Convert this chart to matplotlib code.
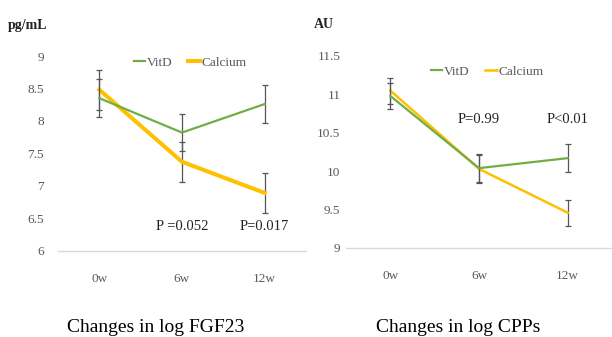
import numpy as np
import matplotlib
matplotlib.use("Agg")
import matplotlib.pyplot as plt

plt.rcParams['font.family'] = ['Liberation Serif', 'DejaVu Serif']

weeks = ['0w', '6w', '12w']

# log FGF23 (pg/mL)
fgf_vitd = [8.35, 7.82, 8.26]
fgf_vitd_err = [0.29, 0.29, 0.29]
fgf_calcium = [8.48, 7.37, 6.89]
fgf_calcium_err = [0.31, 0.31, 0.31]
fgf_yticks = [6, 6.5, 7, 7.5, 8, 8.5, 9]
fgf_pvals = ['P =0.052', 'P=0.017']

# log CPPs (AU)
cpp_vitd = [10.98, 10.04, 10.17]
cpp_vitd_err = [0.17, 0.18, 0.18]
cpp_calcium = [11.05, 10.03, 9.46]
cpp_calcium_err = [0.17, 0.18, 0.17]
cpp_yticks = [9, 9.5, 10, 10.5, 11, 11.5]
cpp_pvals = ['P=0.99', 'P<0.01']

green = '#70AD47'
yellow = '#FFC000'
gray = '#595959'

W, H = 612, 337
fig = plt.figure(figsize=(W / 100, H / 100), dpi=100)


def make_panel(rect, vitd, vitd_err, calc, calc_err, yticks, ylim, vitd_lw, calc_lw,
               ypad, pvals, p_y, title, title_x, unit, unit_x, leg_anchor):
    ax = fig.add_axes(rect)
    x = np.arange(len(weeks))
    ax.errorbar(x, vitd, yerr=vitd_err, color=green, lw=vitd_lw, ecolor='#555555',
                elinewidth=0.9, capsize=2.2, capthick=0.9, label='VitD', zorder=3)
    ax.errorbar(x, calc, yerr=calc_err, color=yellow, lw=calc_lw, ecolor='#555555',
                elinewidth=0.9, capsize=2.2, capthick=0.9, label='Calcium', zorder=2)
    ax.set_xlim(-0.5, 2.5)
    ax.set_ylim(*ylim)
    ax.set_xticks(x)
    ax.set_xticklabels(weeks)
    ax.set_yticks(yticks)
    ax.set_yticklabels([('%g' % v) for v in yticks])
    ax.tick_params(length=0, labelsize=9.5, colors=gray)
    ax.tick_params(axis='y', pad=ypad)
    ax.tick_params(axis='x', pad=16)
    for s in ['top', 'right', 'left']:
        ax.spines[s].set_visible(False)
    ax.spines['bottom'].set_color('#D9D9D9')
    ax.spines['bottom'].set_linewidth(1.0)
    for xi, p in zip([1, 2], pvals):
        ax.text(xi, p_y, p, ha='center', va='center', fontsize=10.5, color='#222222')
    handles, labels = ax.get_legend_handles_labels()
    handles = [h[0] for h in handles]
    leg = ax.legend(handles, labels, loc='center', bbox_to_anchor=leg_anchor,
                    bbox_transform=fig.transFigure, ncol=2, frameon=False,
                    fontsize=9.5, handlelength=0.9, handletextpad=0.1,
                    columnspacing=1.2)
    for t in leg.get_texts():
        t.set_color(gray)
    fig.text(title_x, 1 - 327 / H, title, ha='center', va='center', fontsize=14)
    fig.text(unit_x, 1 - 25 / H, unit, ha='left', va='center', fontsize=10,
             fontweight='bold', color='#222222')
    return ax


make_panel([58 / W, 1 - 250.7 / H, 248 / W, (250.7 - 56) / H],
           fgf_vitd, fgf_vitd_err, fgf_calcium, fgf_calcium_err, fgf_yticks,
           (6, 9), 1.6, 2.9, 10, fgf_pvals, 6.37, 'Changes in log FGF23', 156 / W,
           'pg/mL', 8 / W, (190 / W, 1 - 63 / H))

make_panel([346 / W, 1 - 248 / H, 266 / W, (248 - 56) / H],
           cpp_vitd, cpp_vitd_err, cpp_calcium, cpp_calcium_err, cpp_yticks,
           (9, 11.5), 1.6, 1.8, 4, cpp_pvals, 10.67, 'Changes in log CPPs', 458 / W,
           'AU', 314 / W, (487 / W, 1 - 72 / H))

fig.savefig('out.png', dpi=100)
